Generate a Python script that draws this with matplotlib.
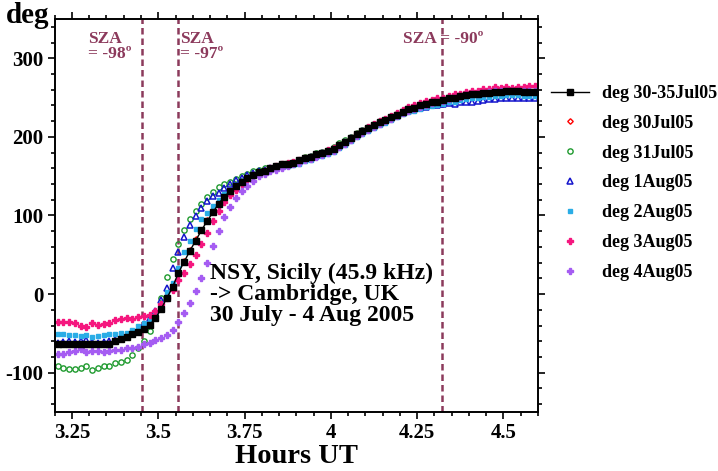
import numpy as np
import matplotlib
matplotlib.use("Agg")
import matplotlib.pyplot as plt
from matplotlib.ticker import MultipleLocator

# one sample per minute, 03:12 to 04:36 UT
n_pts = 84
hours = 3.2 + (np.arange(n_pts) + 0.5) / 60.0

deg_mean = [-64, -64, -64, -63, -63, -63, -63, -64, -64, -63,
            -60, -57, -55, -51, -48, -45, -39, -31, -19, -5,
            9, 27, 41, 55, 68, 81, 93, 104, 115, 124,
            131, 138, 143, 148, 152, 155, 157, 160, 163, 165,
            166, 167, 170, 173, 175, 178, 180, 182, 185, 190,
            194, 199, 204, 208, 211, 215, 219, 221, 225, 228,
            232, 235, 237, 240, 242, 244, 245, 247, 249, 250,
            252, 253, 254, 255, 256, 256, 257, 257, 258, 258,
            258, 257, 257, 257]

deg_30jul = [-63, -64, -63, -62, -63, -64, -62, -63, -64, -62,
             -59, -57, -54, -51, -48, -44, -39, -31, -18, -4,
             11, 27, 42, 56, 70, 82, 94, 105, 115, 124,
             131, 137, 143, 148, 151, 155, 157, 160, 162, 164,
             166, 167, 170, 172, 175, 177, 180, 182, 185, 189,
             194, 199, 203, 207, 211, 215, 218, 221, 225, 228,
             231, 234, 237, 240, 242, 244, 246, 247, 249, 250,
             252, 253, 255, 255, 256, 257, 257, 258, 258, 258,
             259, 258, 258, 257]

deg_31jul = [-92, -94, -95, -95, -94, -92, -96, -94, -91, -92,
             -88, -86, -84, -78, -69, -60, -47, -27, -5, 22,
             45, 64, 82, 95, 106, 115, 124, 130, 136, 140,
             143, 146, 150, 153, 156, 158, 160, 161, 163, 165,
             167, 168, 171, 174, 176, 180, 181, 183, 187, 192,
             196, 200, 205, 209, 212, 216, 220, 222, 225, 229,
             232, 234, 237, 239, 241, 243, 245, 247, 248, 250,
             251, 252, 253, 254, 255, 255, 256, 255, 256, 255,
             256, 255, 256, 256]

deg_1aug = [-62, -61, -60, -61, -60, -59, -61, -62, -61, -60,
            -58, -55, -52, -49, -44, -38, -30, -21, -8, 8,
            33, 54, 72, 88, 99, 110, 119, 125, 129, 135,
            140, 145, 148, 151, 154, 156, 158, 160, 162, 164,
            165, 167, 169, 172, 174, 177, 179, 182, 184, 189,
            193, 198, 203, 207, 210, 214, 218, 220, 224, 226,
            231, 233, 235, 237, 238, 240, 241, 242, 243, 242,
            244, 244, 245, 246, 247, 248, 248, 249, 250, 249,
            250, 249, 250, 250]

deg_2aug = [-51, -51, -52, -52, -53, -52, -55, -53, -52, -51,
            -51, -49, -50, -46, -40, -37, -33, -26, -12, 3,
            14, 33, 53, 68, 83, 95, 103, 112, 120, 127,
            133, 139, 144, 148, 151, 154, 156, 158, 160, 162,
            163, 164, 166, 169, 171, 174, 176, 178, 181, 186,
            190, 195, 200, 204, 207, 211, 215, 218, 222, 225,
            229, 232, 233, 236, 238, 239, 240, 242, 244, 245,
            247, 248, 249, 250, 251, 251, 252, 252, 253, 253,
            253, 252, 252, 252]

deg_3aug = [-36, -36, -36, -37, -40, -42, -37, -39, -38, -37,
            -33, -32, -30, -32, -29, -28, -26, -22, -12, -5,
            5, 18, 27, 38, 50, 64, 78, 93, 106, 117,
            126, 133, 140, 146, 151, 154, 157, 160, 163, 165,
            167, 168, 170, 173, 175, 177, 180, 183, 186, 190,
            194, 199, 204, 208, 212, 216, 220, 223, 226, 230,
            234, 238, 241, 243, 246, 247, 249, 250, 252, 254,
            255, 257, 259, 259, 261, 261, 263, 262, 264, 262,
            264, 263, 265, 265]

deg_4aug = [-76, -76, -74, -72, -70, -74, -73, -73, -74, -72,
            -71, -71, -68, -68, -67, -64, -62, -59, -56, -52,
            -46, -36, -24, -11, 4, 20, 40, 61, 80, 98,
            111, 122, 131, 137, 144, 150, 153, 156, 158, 161,
            163, 165, 167, 170, 172, 175, 177, 180, 182, 187,
            191, 196, 201, 205, 209, 213, 217, 220, 223, 227,
            230, 233, 236, 238, 240, 243, 244, 246, 248, 250,
            251, 253, 254, 255, 256, 257, 258, 258, 259, 258,
            259, 258, 259, 258]

sza_hours = [3.454, 3.558, 4.323]
sza_labels = ["SZA\n= -98º", "SZA\n= -97º", "SZA = -90º"]

plt.rcParams['font.family'] = ['Liberation Serif', 'DejaVu Serif']
plt.rcParams['font.weight'] = 'bold'
plt.rcParams['axes.unicode_minus'] = False

maroon = '#8C3A5C'

fig = plt.figure(figsize=(7.18, 4.71), dpi=100)
ax = fig.add_axes([0.0762, 0.1253, 0.673, 0.8344])

h_red, = ax.plot(hours, deg_30jul, ls='none', marker='D', ms=2.8, mfc='none',
                 mec='#FF0000', mew=1.0)
h_green, = ax.plot(hours, deg_31jul, ls='none', marker='o', ms=3.8, mfc='none',
                   mec='#1E9A2E', mew=1.0)
h_blue, = ax.plot(hours, deg_1aug, ls='none', marker='^', ms=4.0, mfc='none',
                  mec='#1414CC', mew=1.1)
h_cyan, = ax.plot(hours, deg_2aug, ls='none', marker='s', ms=3.3,
                  color='#2AADE6', mec='#2AADE6')
h_pink, = ax.plot(hours, deg_3aug, ls='none', marker='P', ms=4.4,
                  color='#F5167E', mec='#F5167E')
h_purple, = ax.plot(hours, deg_4aug, ls='none', marker='P', ms=4.4,
                    color='#A55CF2', mec='#A55CF2')
h_mean, = ax.plot(hours, deg_mean, color='black', lw=1.0, marker='s', ms=4.5,
                  zorder=5)

for xh in sza_hours:
    ax.axvline(xh, color=maroon, lw=1.8, ls=(0, (2.6, 1.6)), zorder=1)

ax.text(3.296, 335, sza_labels[0], color=maroon, fontsize=12.5, va='top',
        ha='left', linespacing=0.95)
ax.text(3.563, 335, sza_labels[1], color=maroon, fontsize=12.5, va='top',
        ha='left', linespacing=0.95)
ax.text(4.21, 335, sza_labels[2], color=maroon, fontsize=12.5, va='top',
        ha='left')

ax.text(3.651, 40, "NSY, Sicily (45.9 kHz)\n-> Cambridge, UK\n30 July - 4 Aug 2005",
        fontsize=17, va='top', ha='left', linespacing=1.0)

ax.set_xlim(3.2, 4.6)
ax.set_ylim(-150, 350)
ax.set_xticks([3.25, 3.5, 3.75, 4, 4.25, 4.5])
ax.set_xticklabels(['3.25', '3.5', '3.75', '4', '4.25', '4.5'])
ax.set_yticks([-100, 0, 100, 200, 300])
ax.xaxis.set_minor_locator(MultipleLocator(0.05))
ax.yaxis.set_minor_locator(MultipleLocator(20))
ax.tick_params(which='both', direction='out', top=True, right=True, width=1.2)
ax.tick_params(which='major', length=5, labelsize=15, pad=3)
ax.tick_params(which='minor', length=3)
for sp in ax.spines.values():
    sp.set_linewidth(1.4)

ax.set_xlabel('Hours UT', fontsize=20.5, fontweight='bold', labelpad=1)
fig.text(0.008, 1 - 23 / 471, 'deg', fontsize=21, va='baseline', ha='left')

handles = [h_mean, h_red, h_green, h_blue, h_cyan, h_pink, h_purple]
labels = ['deg 30-35Jul05', 'deg 30Jul05', 'deg 31Jul05', 'deg 1Aug05',
          'deg 2Aug05', 'deg 3Aug05', 'deg 4Aug05']
fig.legend(handles, labels, loc='upper left', bbox_to_anchor=(0.758, 0.835),
           frameon=False, fontsize=13, handlelength=2.1, handletextpad=0.7,
           labelspacing=0.71, borderaxespad=0)

fig.savefig('out.png', dpi=100)
